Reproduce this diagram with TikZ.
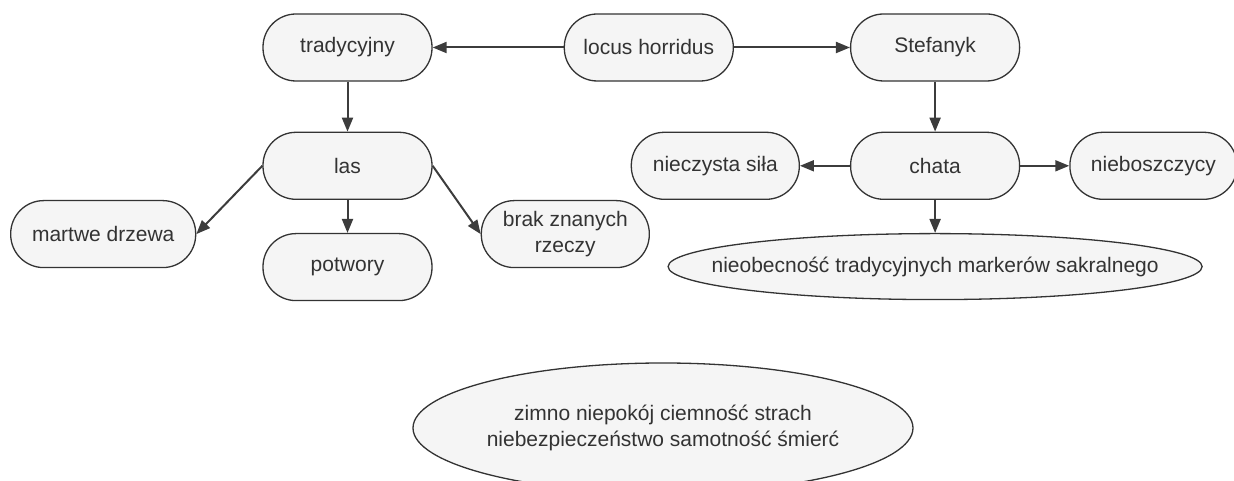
\documentclass[tikz,border=0pt]{standalone}
\usepackage{fontspec}
\setmainfont{Liberation Sans}
\usetikzlibrary{arrows.meta,positioning,shapes.geometric}
\definecolor{nodefill}{HTML}{F5F5F5}
\definecolor{nodeline}{HTML}{333333}
\definecolor{edgeline}{HTML}{3C3C3C}

\begin{document}
\begin{tikzpicture}[
  term/.style={rectangle, rounded corners=33pt, draw=nodeline, fill=nodefill,
               line width=1.3pt, align=center, text=nodeline, inner sep=2pt,
               minimum width=169pt, minimum height=67pt,
               font=\fontsize{21pt}{25.5pt}\selectfont},
  oval/.style={ellipse, draw=nodeline, fill=nodefill, line width=1.3pt,
               align=center, text=nodeline, inner sep=0pt,
               font=\fontsize{21pt}{25.5pt}\selectfont},
  arrow/.style={-{Triangle[length=14pt,width=11pt]}, line width=2pt, draw=edgeline}
]
\clip (0,0) rectangle (1234pt,481pt);

\node[term] (trad) at (347.5pt,433.5pt) {tradycyjny};
\node[term, right=131pt of trad] (locus) {locus horridus};
\node[term, right=116pt of locus] (stef) {Stefanyk};

\node[term, below=50pt of trad] (las) {las};
\node[term, below=33pt of las] (potwory) {potwory};
\node[term, minimum width=185pt, below left=0pt and 66pt of las] (martwe) {martwe drzewa};
\node[term, minimum width=168pt, below right=0pt and 48pt of las] (brak) {brak znanych\\rzeczy};

\node[term, below=50pt of stef] (chata) {chata};
\node[term, minimum width=168pt, left=50pt of chata] (sila) {nieczysta siła};
\node[term, minimum width=167pt, right=49pt of chata] (zmarli) {nieboszczycy};
\node[oval, inner xsep=-50pt, minimum width=534pt, minimum height=66pt,
      below=33pt of chata] (sacrum) {nieobecność tradycyjnych markerów sakralnego};

\node[oval, inner xsep=-20pt, minimum width=500pt, minimum height=130pt]
  (nastroj) at (663pt,53pt)
  {zimno niepokój ciemność strach\\niebezpieczeństwo samotność śmierć};

\foreach \a/\b in {locus/trad,locus/stef,trad/las,las.west/martwe.east,las/potwory,
                   las.east/brak.west,stef/chata,chata/sila,chata/zmarli,chata/sacrum}
  \draw[arrow] (\a) -- (\b);
\end{tikzpicture}
\end{document}
